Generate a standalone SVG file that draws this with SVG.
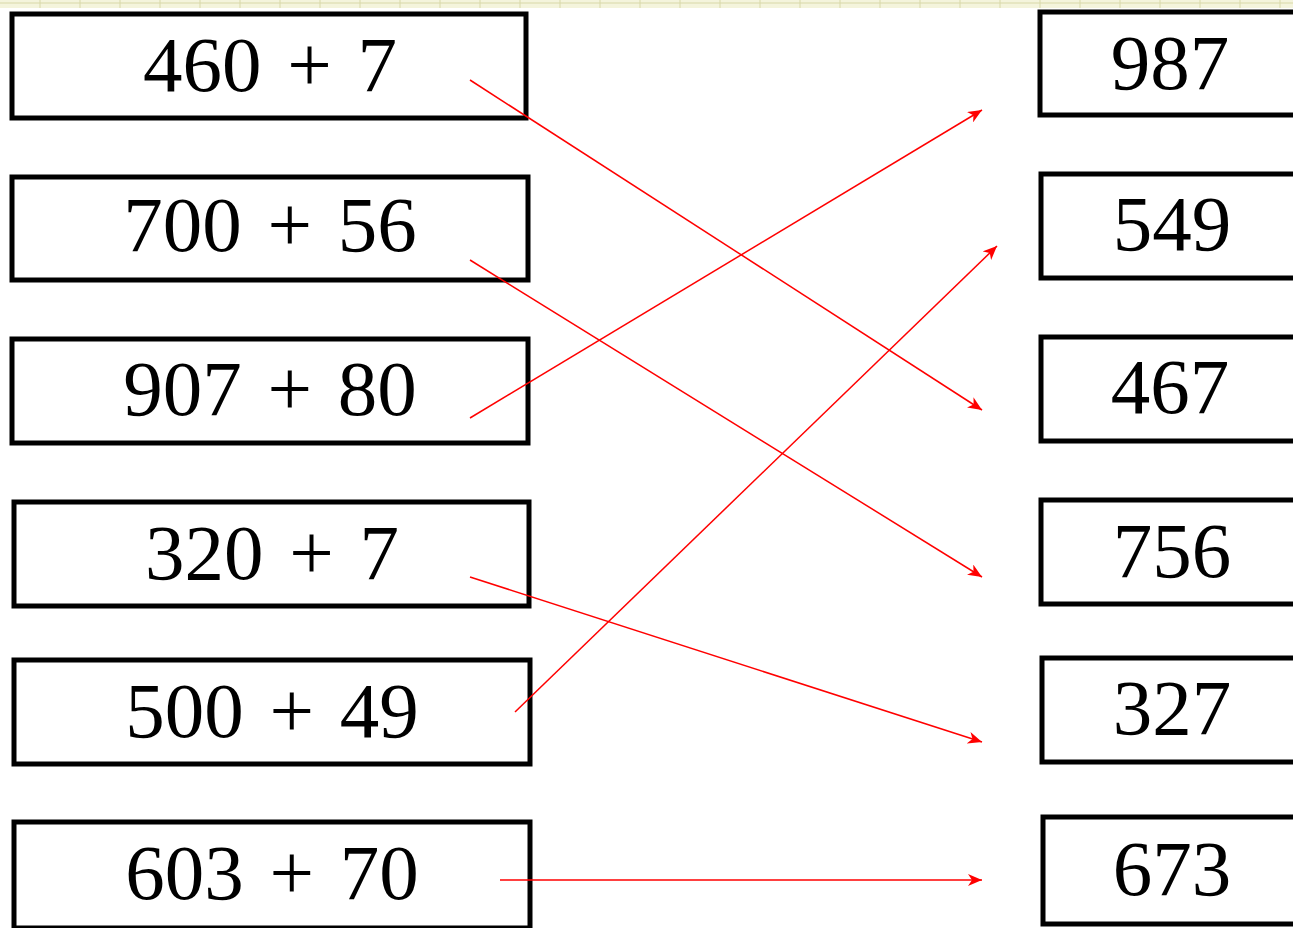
<svg xmlns="http://www.w3.org/2000/svg" width="1293" height="928" viewBox="0 0 1293 928">
<style>
.box{fill:#fff;stroke:#000;stroke-width:5}
.t{font-size:79px;fill:#000;text-anchor:middle}
.c{stroke:#f00;stroke-width:1.5;fill:none;marker-end:url(#ah)}
.g{stroke:#d8d8a8;stroke-width:1}
</style>
<defs>
<marker id="ah" markerUnits="userSpaceOnUse" markerWidth="16" markerHeight="12" refX="14" refY="6" orient="auto">
<path d="M0,0 L14,6 L0,12 L4,6 Z" fill="#f00"/>
</marker>
</defs>
<rect width="1293" height="928" fill="#fff"/>
<g id="grid">
<rect x="0" y="0" width="1293" height="8" fill="#f4f4dc"/>
<line class="g" x1="0" y1="3" x2="1293" y2="3"/>
<path class="g" d="M40,0V8M80,0V8M120,0V8M160,0V8M200,0V8M240,0V8M280,0V8M320,0V8M360,0V8M400,0V8M440,0V8M480,0V8M520,0V8M560,0V8M600,0V8M640,0V8M680,0V8M720,0V8M760,0V8M800,0V8M840,0V8M880,0V8M920,0V8M960,0V8M1000,0V8M1040,0V8M1080,0V8M1120,0V8M1160,0V8M1200,0V8M1240,0V8M1280,0V8"/>
</g>
<g id="L1"><rect class="box" x="12" y="14" width="514" height="104"/><text class="t" font-family="Liberation Serif" x="270" y="91">460<tspan dx="6"> +</tspan><tspan dx="6"> 7</tspan></text></g>
<g id="L2"><rect class="box" x="12" y="177" width="516" height="103"/><text class="t" font-family="Liberation Serif" x="270" y="251">700<tspan dx="6"> +</tspan><tspan dx="6"> 56</tspan></text></g>
<g id="L3"><rect class="box" x="12" y="339" width="516" height="104"/><text class="t" font-family="Liberation Serif" x="270" y="415">907<tspan dx="6"> +</tspan><tspan dx="6"> 80</tspan></text></g>
<g id="L4"><rect class="box" x="14" y="502" width="515" height="104"/><text class="t" font-family="Liberation Serif" x="272" y="579">320<tspan dx="6"> +</tspan><tspan dx="6"> 7</tspan></text></g>
<g id="L5"><rect class="box" x="14" y="660" width="516" height="104"/><text class="t" font-family="Liberation Serif" x="272" y="737">500<tspan dx="6"> +</tspan><tspan dx="6"> 49</tspan></text></g>
<g id="L6"><rect class="box" x="14" y="822" width="516" height="106"/><text class="t" font-family="Liberation Serif" x="272" y="899">603<tspan dx="6"> +</tspan><tspan dx="6"> 70</tspan></text></g>
<g id="R1"><rect class="box" x="1040" y="12" width="260" height="103"/><text class="t" font-family="Liberation Serif" x="1170" y="89">987</text></g>
<g id="R2"><rect class="box" x="1041" y="174" width="260" height="104"/><text class="t" font-family="Liberation Serif" x="1172" y="250">549</text></g>
<g id="R3"><rect class="box" x="1041" y="337" width="260" height="104"/><text class="t" font-family="Liberation Serif" x="1170" y="413">467</text></g>
<g id="R4"><rect class="box" x="1041" y="500" width="260" height="104"/><text class="t" font-family="Liberation Serif" x="1172" y="577">756</text></g>
<g id="R5"><rect class="box" x="1042" y="658" width="260" height="104"/><text class="t" font-family="Liberation Serif" x="1172" y="734">327</text></g>
<g id="R6"><rect class="box" x="1043" y="817" width="260" height="107"/><text class="t" font-family="Liberation Serif" x="1172" y="895">673</text></g>
<g id="connectors">
<line class="c" x1="470" y1="80" x2="982" y2="410"/>
<line class="c" x1="470" y1="260" x2="982" y2="577"/>
<line class="c" x1="470" y1="418" x2="982" y2="110"/>
<line class="c" x1="470" y1="577" x2="982" y2="742"/>
<line class="c" x1="515" y1="712" x2="997" y2="246"/>
<line class="c" x1="500" y1="880" x2="982" y2="880"/>
</g>
</svg>
